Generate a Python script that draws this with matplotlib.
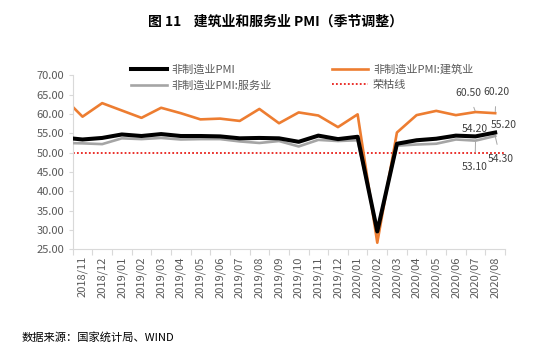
import matplotlib
matplotlib.use("Agg")
import matplotlib.pyplot as plt
import numpy as np
from matplotlib.lines import Line2D

plt.rcParams['font.family'] = ['Noto Sans CJK SC', 'DejaVu Sans']

# ---- data ----
months = ["2018/10",
          "2018/11", "2018/12", "2019/01", "2019/02", "2019/03", "2019/04",
          "2019/05", "2019/06", "2019/07", "2019/08", "2019/09", "2019/10",
          "2019/11", "2019/12", "2020/01", "2020/02", "2020/03", "2020/04",
          "2020/05", "2020/06", "2020/07", "2020/08"]
nonmfg_pmi = [53.9,
              53.4, 53.8, 54.7, 54.3, 54.8, 54.3, 54.3, 54.2, 53.7, 53.8, 53.7,
              52.8, 54.4, 53.5, 54.1, 29.6, 52.3, 53.2, 53.6, 54.4, 54.2, 55.2]
construction = [64.4,
                59.3, 62.8, 60.9, 59.0, 61.6, 60.2, 58.6, 58.8, 58.2, 61.3, 57.6,
                60.4, 59.6, 56.6, 59.9, 26.7, 55.2, 59.7, 60.8, 59.7, 60.5, 60.2]
services = [52.5,
            52.4, 52.2, 53.7, 53.5, 53.8, 53.4, 53.5, 53.5, 52.9, 52.5, 53.0,
            51.6, 53.3, 53.0, 53.2, 30.1, 51.8, 52.1, 52.3, 53.4, 53.1, 54.3]
threshold = 50.0

names = ["非制造业PMI", "非制造业PMI:建筑业", "非制造业PMI:服务业", "荣枯线"]
title = "图 11    建筑业和服务业 PMI（季节调整）"
source = "数据来源：国家统计局、WIND"

# ---- figure ----
W, H = 550, 355
fig = plt.figure(figsize=(W / 100, H / 100), dpi=100)
ax = fig.add_axes([72.7 / W, 1 - 249.3 / H, (505 - 72.7) / W, (249.3 - 75.3) / H])

x = np.arange(len(months)) - 1  # first (2018/10) sits left of the visible range
vis_labels = months[1:]

c_black = "#000000"
c_orange = "#ED7D31"
c_gray = "#A5A5A5"
c_red = "#E8201A"

ax.plot(x, construction, color=c_orange, lw=1.9, zorder=2)
ax.plot(x, services, color=c_gray, lw=1.9, zorder=3)
ax.plot(x, nonmfg_pmi, color=c_black, lw=2.9, zorder=4)
ax.axhline(threshold, color=c_red, lw=1.3, ls=(0, (1, 1.2)), zorder=1)

ax.set_xlim(-0.5, len(vis_labels) - 0.5)
ax.set_ylim(25, 70)
ax.set_yticks(np.arange(25, 70.1, 5))
ax.set_yticklabels([f"{v:.2f}" for v in np.arange(25, 70.1, 5)])
ax.set_xticks(np.arange(len(vis_labels)))
ax.set_xticklabels(vis_labels, rotation=90)
ax.set_xticks(np.arange(-0.5, len(vis_labels)), minor=True)
ax.tick_params(axis='x', which='major', length=0, pad=5, labelsize=8, labelcolor="#595959")
ax.tick_params(axis='x', which='minor', length=4, color="#D9D9D9", width=0.8)
ax.tick_params(axis='y', length=3, color="#D9D9D9", width=0.8, labelsize=8,
               labelcolor="#595959", pad=3)
for s in ["top", "right"]:
    ax.spines[s].set_visible(False)
for s in ["left", "bottom"]:
    ax.spines[s].set_color("#D9D9D9")
    ax.spines[s].set_linewidth(0.8)

# data labels with leader lines
lab_col = "#404040"
i7 = months.index("2020/07")
i8 = months.index("2020/08")
def lab(i, series, xt, yt, leader=True):
    ax.annotate(f"{series[i]:.2f}", xy=(x[i], series[i]), xytext=(xt, yt),
                textcoords='offset points', fontsize=7.5, color=lab_col,
                ha='center', va='center', annotation_clip=False,
                arrowprops=dict(arrowstyle='-', color="#A6A6A6", lw=0.7,
                                shrinkA=5, shrinkB=1) if leader else None)
lab(i7, construction, -5, 13.7)
lab(i8, construction, 0.8, 15.3)
lab(i7, nonmfg_pmi, -0.4, 5.6, leader=False)
lab(i8, nonmfg_pmi, 6.3, 5.6, leader=False)
lab(i7, services, -0.4, -19)
lab(i8, services, 3.8, -16.5)

# legend
handles = [Line2D([], [], color=c_black, lw=2.9),
           Line2D([], [], color=c_gray, lw=1.9),
           Line2D([], [], color=c_orange, lw=1.9),
           Line2D([], [], color=c_red, lw=1.3, ls=(0, (1, 1.2)))]
labels = [names[0], names[2], names[1], names[3]]
leg = fig.legend(handles, labels, ncol=2, loc='upper left',
                 bbox_to_anchor=(131 / W, 1 - 64 / H), frameon=False,
                 fontsize=8, handlelength=3.2, handletextpad=0.45,
                 columnspacing=5.45, labelspacing=0.52, borderpad=0,
                 borderaxespad=0)
for t in leg.get_texts():
    t.set_color("#595959")

fig.text(0.5, 1 - 22 / H, title, ha='center', va='center', fontsize=10,
         fontweight='bold', color="#000000")
fig.text(22 / W, 1 - 337 / H, source, ha='left', va='center', fontsize=8.1,
         color="#000000")

fig.savefig("out.png", dpi=100)
